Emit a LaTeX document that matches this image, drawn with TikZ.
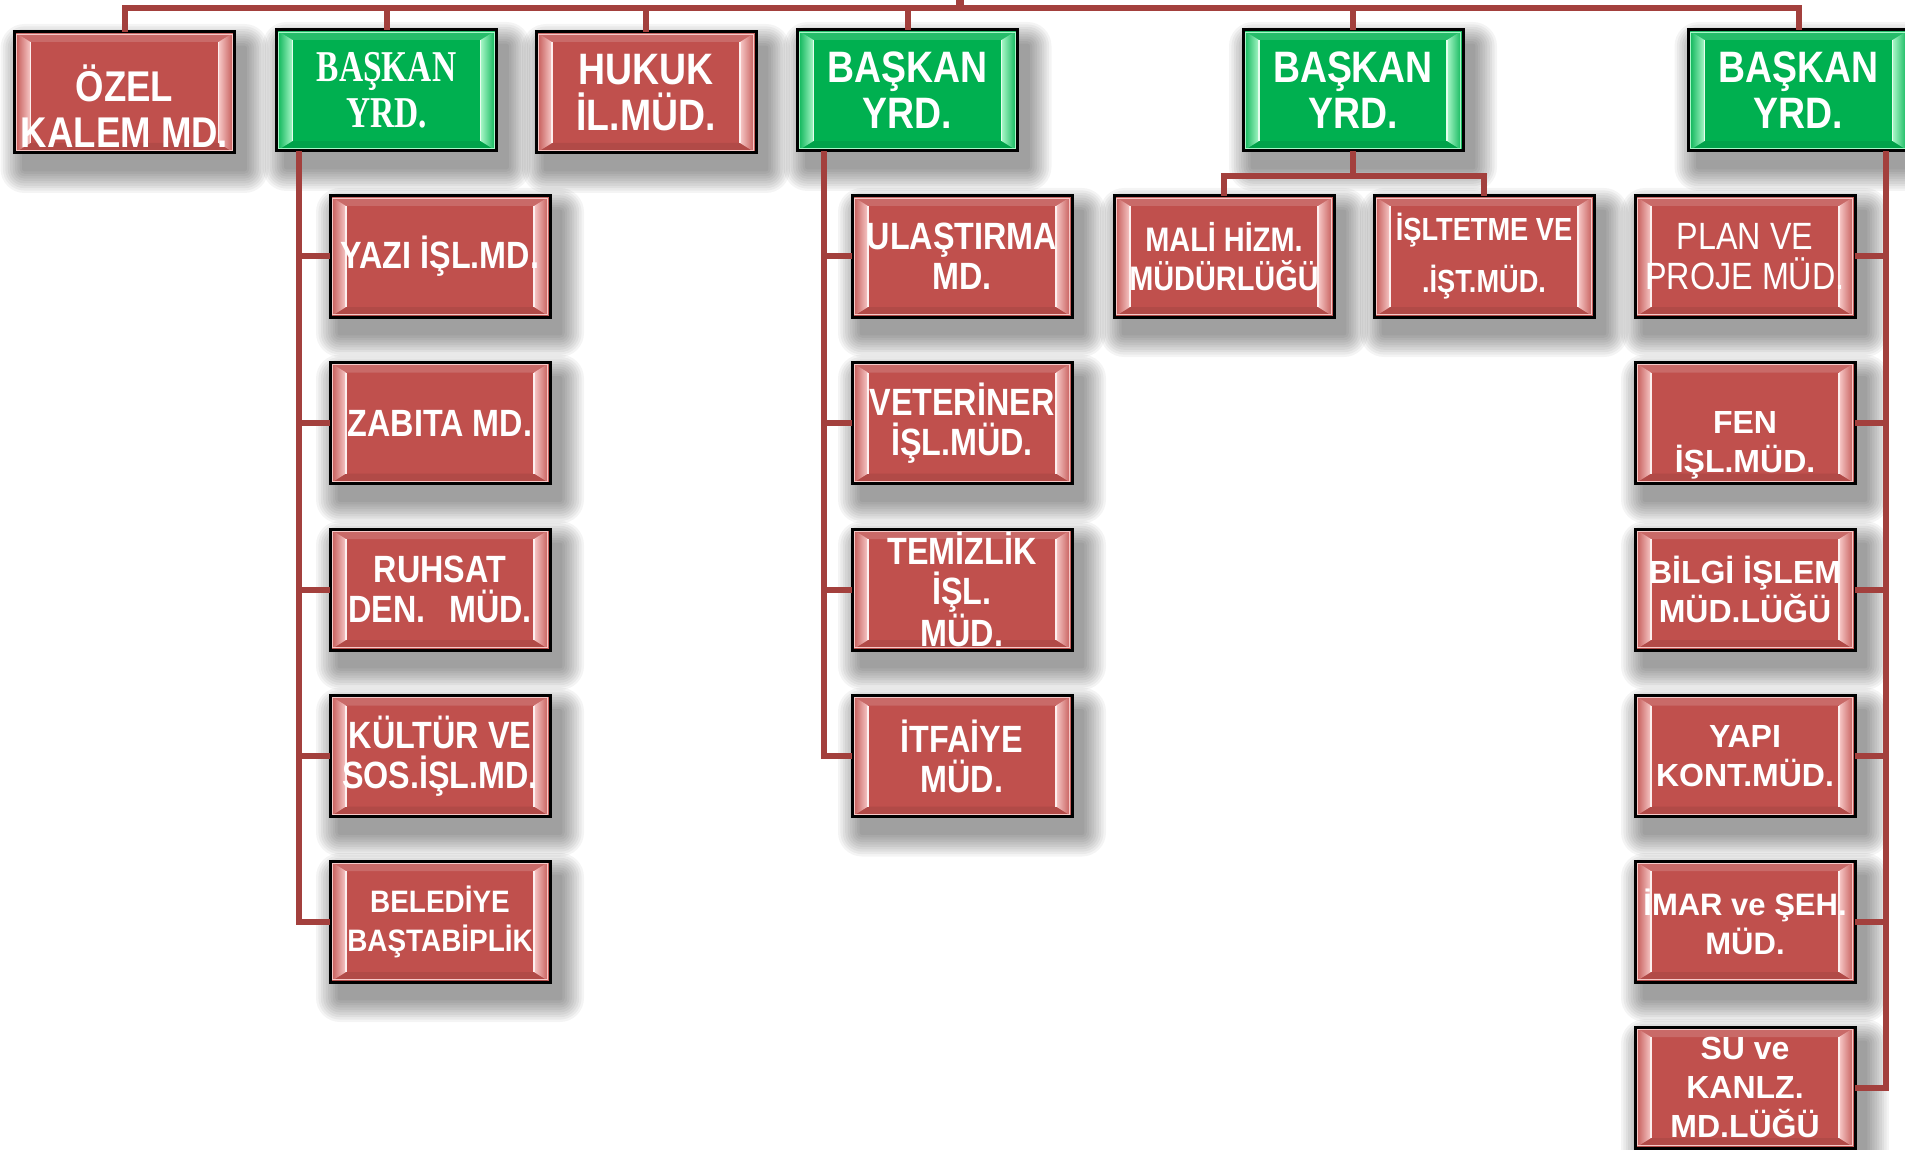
\documentclass[tikz,border=0pt]{standalone}
\usepackage{fontspec}
\setmainfont{Liberation Sans}
\newfontfamily\fn[FakeStretch=0.85]{Liberation Sans}
\newfontfamily\fm[FakeStretch=0.9]{Liberation Sans}
\newfontfamily\fw{Liberation Sans}
\newfontfamily\fs[FakeStretch=0.76]{Liberation Serif}
\usetikzlibrary{calc}
\pgfdeclarelayer{bg}
\pgfsetlayers{bg,main}
\definecolor{bred}{HTML}{C0504D}
\definecolor{bgreen}{HTML}{00B050}
\definecolor{lred}{HTML}{F7C9C8}
\definecolor{lgreen}{HTML}{A8F7C8}
\definecolor{lnc}{HTML}{A3403D}
\tikzset{
  bev/.style 2 args={path picture={
    \fill[#1!85!white] (path picture bounding box.north west) -- (path picture bounding box.north east)
      -- ([xshift=-8pt,yshift=-5pt]path picture bounding box.north east)
      -- ([xshift=8pt,yshift=-5pt]path picture bounding box.north west) -- cycle;
    \fill[#1!92!black] (path picture bounding box.south west) -- (path picture bounding box.south east)
      -- ([xshift=-8pt,yshift=5pt]path picture bounding box.south east)
      -- ([xshift=8pt,yshift=5pt]path picture bounding box.south west) -- cycle;
    \shade[left color=#1, right color=#2] (path picture bounding box.north west)
      -- ([xshift=8pt,yshift=-5pt]path picture bounding box.north west)
      -- ([xshift=8pt,yshift=5pt]path picture bounding box.south west)
      -- (path picture bounding box.south west) -- cycle;
    \shade[left color=#2, right color=#1] (path picture bounding box.north east)
      -- ([xshift=-8pt,yshift=-5pt]path picture bounding box.north east)
      -- ([xshift=-8pt,yshift=5pt]path picture bounding box.south east)
      -- (path picture bounding box.south east) -- cycle;
    \draw[white!70!#2, line width=0.7pt]
      ([xshift=8pt,yshift=-5pt]path picture bounding box.north west)
      -- ([xshift=8pt,yshift=5pt]path picture bounding box.south west);
    \draw[white!70!#2, line width=0.7pt]
      ([xshift=-8pt,yshift=-5pt]path picture bounding box.north east)
      -- ([xshift=-8pt,yshift=5pt]path picture bounding box.south east);
    \draw[#2, line width=0.5pt]
      ([xshift=1.2pt,yshift=-1.2pt]path picture bounding box.north west) rectangle
      ([xshift=-1.2pt,yshift=1.2pt]path picture bounding box.south east);
  }},
  box/.style={draw=black, line width=1.5pt, minimum width=110pt, minimum height=60.5pt,
    inner sep=0pt, outer sep=0pt, text=white, align=center},
  redbox/.style={box, fill=bred, bev={bred}{lred}},
  greenbox/.style={box, fill=bgreen, bev={bgreen}{lgreen}},
  shadowlayer/.style={fill=black, opacity=0.045},
  tA/.style={font=\fn\bfseries\fontsize{22}{23}\selectfont},
  tS/.style={font=\fs\bfseries\fontsize{22}{23}\selectfont},
  cA/.style={font=\fn\bfseries\fontsize{19}{20}\selectfont},
  cR/.style={font=\fn\fontsize{19}{20}\selectfont},
  cW/.style={font=\fw\bfseries\fontsize{16}{19.5}\selectfont},
  link/.style={draw=lnc, line width=3pt},
}
\begin{document}
\begin{tikzpicture}[x=0.5pt,y=-0.5pt]
\useasboundingbox (0,0) rectangle (1905,1150);

% top row
\node[redbox, font=\fn\bfseries\fontsize{21.5}{23}\selectfont] (ozel) at (124.5,92.5) {\mbox{}\\[9pt]ÖZEL\\KALEM MD.};
\node[greenbox, tS] (by1) at (386.5,90.5) {BAŞKAN\\YRD.};
\node[redbox, tA] (hukuk) at (646,92.5) {HUKUK\\İL.MÜD.};
\node[greenbox, tA] (by2) at (907.5,90.5) {BAŞKAN\\YRD.};
\node[greenbox, tA] (by3) at (1353,90.5) {BAŞKAN\\YRD.};
\node[greenbox, tA] (by4) at (1798.5,90.5) {BAŞKAN\\YRD.};

% column 1
\node[redbox, cA] (yazi) at (440,256.5) {YAZI İŞL.MD.};
\node[redbox, cA] (zabita) at (440,423) {ZABITA MD.};
\node[redbox, cA] (ruhsat) at (440,589.5) {RUHSAT\\DEN.\hspace{12pt}MÜD.};
\node[redbox, cA] (kultur) at (440,756) {KÜLTÜR VE\\SOS.İŞL.MD.};
\node[redbox, font=\fm\bfseries\fontsize{15.5}{19.5}\selectfont] (beled) at (440,921.5) {BELEDİYE\\BAŞTABİPLİK};

% column 2
\node[redbox, cA] (ulas) at (962,256.5) {ULAŞTIRMA\\MD.};
\node[redbox, cA] (veter) at (962,423) {VETERİNER\\İŞL.MÜD.};
\node[redbox, cA] (temiz) at (962,589.5) {TEMİZLİK\\İŞL.\\MÜD.};
\node[redbox, cA] (itfa) at (962,756) {İTFAİYE\\MÜD.};

% column 3
\node[redbox, font=\fn\bfseries\fontsize{17}{19.5}\selectfont] (mali) at (1224,256.5) {MALİ HİZM.\\MÜDÜRLÜĞÜ};
\node[redbox, font=\fn\bfseries\fontsize{16}{26}\selectfont] (islt) at (1484,256.5) {İŞLTETME VE\\.İŞT.MÜD.};

% column 4
\node[redbox, cR] (plan) at (1745,256.5) {PLAN VE\\PROJE MÜD.};
\node[redbox, cW] (fen) at (1745,423) {\mbox{}\\[14pt]FEN\\İŞL.MÜD.};
\node[redbox, cW] (bilgi) at (1745,589.5) {BİLGİ İŞLEM\\MÜD.LÜĞÜ};
\node[redbox, cW] (yapi) at (1745,756) {YAPI\\KONT.MÜD.};
\node[redbox, font=\fw\bfseries\fontsize{15.5}{19.5}\selectfont] (imar) at (1745,921.5) {İMAR ve ŞEH.\\MÜD.};
\node[redbox, cW] (su) at (1745,1087.5) {SU ve\\KANLZ.\\MD.LÜĞÜ};

% background and soft shadows
\begin{pgfonlayer}{bg}
\fill[white] (0,0) rectangle (1905,1150);
\foreach \n in {ozel,by1,hukuk,by2,by3,by4,yazi,zabita,ruhsat,kultur,beled,ulas,veter,temiz,itfa,mali,islt,plan,fen,bilgi,yapi,imar,su}{
  \foreach \i in {1,...,10}{
    \fill[shadowlayer, rounded corners=\i*1.2pt]
      ([xshift=5pt-\i*1.2pt, yshift=-8pt+\i*1.2pt]\n.north west) rectangle
      ([xshift=5pt+\i*1.2pt, yshift=-8pt-\i*1.2pt]\n.south east);
  }
}
\end{pgfonlayer}

% connectors: top bus
\coordinate (bus) at (960,8);
\coordinate (root) at (960,0);
\draw[link] (ozel.north) |- (bus) -| (by4.north);
\draw[link] (by1.north) -- (by1.north |- bus);
\draw[link] (hukuk.north) -- (hukuk.north |- bus);
\draw[link] (by2.north) -- (by2.north |- bus);
\draw[link] (by3.north) -- (by3.north |- bus);
\draw[draw=lnc, line width=4pt] (bus) -- (root);

% column 1
\coordinate (k1) at ([xshift=11pt]by1.south west);
\draw[link] (beled.west) -| (k1);
\foreach \n in {yazi,zabita,ruhsat,kultur} \draw[link] (\n.west) -- (\n.west -| k1);

% column 2
\coordinate (k2) at ([xshift=13pt]by2.south west);
\draw[link] (itfa.west) -| (k2);
\foreach \n in {ulas,veter,temiz} \draw[link] (\n.west) -- (\n.west -| k2);

% column 3
\coordinate (k3) at ([yshift=-12.5pt]by3.south);
\draw[link] (by3.south) -- (k3);
\draw[link] (mali.north) |- (k3) -| (islt.north);

% column 4
\coordinate (k4) at ([xshift=-11.5pt]by4.south east);
\draw[link] (su.east) -| (k4);
\foreach \n in {plan,fen,bilgi,yapi,imar} \draw[link] (\n.east) -- (\n.east -| k4);
\end{tikzpicture}
\end{document}
